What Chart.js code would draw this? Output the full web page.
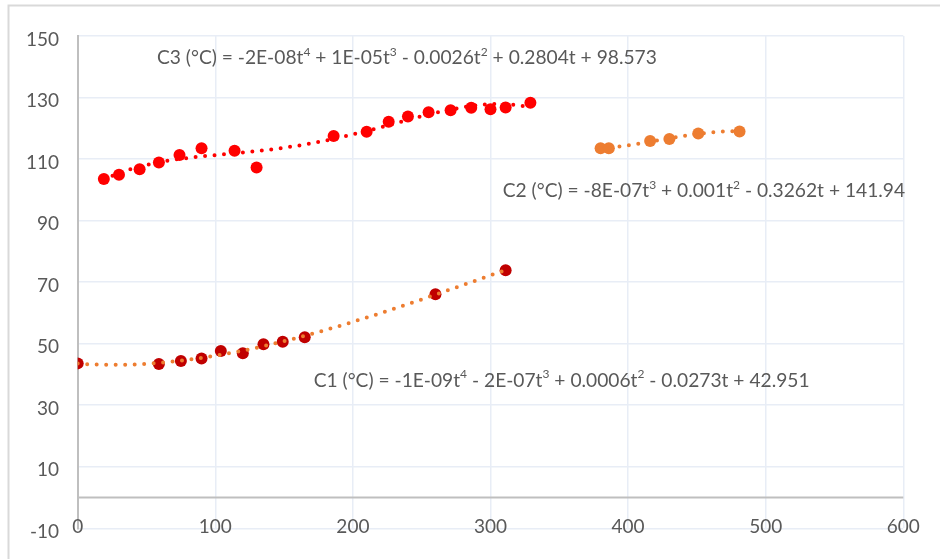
<!DOCTYPE html>
<html><head><meta charset="utf-8">
<script src="https://cdn.jsdelivr.net/npm/chart.js@4.4.1/dist/chart.umd.min.js"></script>
<style>html,body{margin:0;padding:0;background:#fff;}</style>
</head><body>
<canvas id="c" width="940" height="559"></canvas>
<script>
// ---- data ----
const c1T = [0, 59, 75, 90, 104, 120, 135, 149, 165, 260, 311];
const c1V = [43.6, 43.4, 44.4, 45.2, 47.6, 46.9, 49.8, 50.6, 52.1, 66.1, 73.9];
const c3T = [19, 30, 45, 59, 74, 90, 114, 130, 186, 210, 226, 240, 255, 271, 286, 300, 311, 329];
const c3V = [103.5, 104.9, 106.7, 108.9, 111.3, 113.5, 112.7, 107.3, 117.5, 118.9, 122.1, 123.8, 125.2, 125.9, 126.7, 126.2, 126.8, 128.3];
const c2T = [380, 386, 416, 430, 451, 481];
const c2V = [113.5, 113.5, 115.9, 116.5, 118.3, 119.0];
const xTicks = [0, 100, 200, 300, 400, 500, 600];
const yTicks = [-10, 10, 30, 50, 70, 90, 110, 130, 150];
const eqC3 = "C3 (°C) = -2E-08t^4 + 1E-05t^3 - 0.0026t^2 + 0.2804t + 98.573";
const eqC2 = "C2 (°C) = -8E-07t^3 + 0.001t^2 - 0.3262t + 141.94";
const eqC1 = "C1 (°C) = -1E-09t^4 - 2E-07t^3 + 0.0006t^2 - 0.0273t + 42.951";
// label anchor (left edge, vertical centre) in data units
const eqAnchors = [[57.6, 142.8], [308.9, 99.6], [171.5, 37.9]];

// ---- least-squares polynomial trendline (as Excel does) ----
function polyFit(xs, ys, deg) {
  const n = deg + 1;
  const A = Array.from({length: n}, () => new Array(n).fill(0));
  const b = new Array(n).fill(0);
  for (let i = 0; i < xs.length; i++) {
    const u = xs[i] / 100;
    for (let j = 0; j < n; j++) {
      b[j] += Math.pow(u, j) * ys[i];
      for (let k = 0; k < n; k++) A[j][k] += Math.pow(u, j + k);
    }
  }
  for (let col = 0; col < n; col++) {
    let piv = col;
    for (let r = col + 1; r < n; r++) if (Math.abs(A[r][col]) > Math.abs(A[piv][col])) piv = r;
    [A[col], A[piv]] = [A[piv], A[col]]; [b[col], b[piv]] = [b[piv], b[col]];
    for (let r = 0; r < n; r++) {
      if (r === col) continue;
      const f = A[r][col] / A[col][col];
      for (let k = col; k < n; k++) A[r][k] -= f * A[col][k];
      b[r] -= f * b[col];
    }
  }
  const coef = b.map((v, i) => v / A[i][i]);
  return t => coef.reduce((s, c, i) => s + c * Math.pow(t / 100, i), 0);
}
function trend(xs, ys, deg) {
  const f = polyFit(xs, ys, deg);
  const lo = Math.min(...xs), hi = Math.max(...xs), pts = [];
  for (let t = lo; t <= hi; t += 1) pts.push({x: t, y: f(t)});
  return pts;
}
const pts = (xs, ys) => xs.map((x, i) => ({x, y: ys[i]}));

const FONT = "Lato, 'Open Sans', sans-serif";
const TXT = '#595959';
const TICK_SIZE = 19;
const EQ_SIZE = 19.2;

const framePlugin = {
  id: 'frame',
  beforeDraw(chart) {
    const ctx = chart.ctx;
    ctx.save();
    ctx.fillStyle = '#fff';
    ctx.fillRect(0, 0, chart.width, chart.height);
    ctx.strokeStyle = '#D9D9D9';
    ctx.lineWidth = 2;
    ctx.strokeRect(8.5, 5.5, 1200, 1200);
    ctx.restore();
  }
};
const zeroLine = {
  id: 'zeroLine',
  beforeDatasetsDraw(chart) {
    const {ctx, chartArea, scales} = chart;
    const y = scales.y.getPixelForValue(0);
    ctx.save();
    ctx.strokeStyle = '#BFBFBF';
    ctx.lineWidth = 2;
    ctx.beginPath(); ctx.moveTo(chartArea.left, y); ctx.lineTo(chartArea.right, y); ctx.stroke();
    ctx.restore();
  }
};
// x tick labels sit on the bottom (-10) gridline, as in the reference
const xLabels = {
  id: 'xLabels',
  afterDraw(chart) {
    const {ctx, scales} = chart;
    const y = scales.y.getPixelForValue(yTicks[0]) - 1;
    ctx.save();
    ctx.fillStyle = TXT;
    ctx.font = TICK_SIZE + 'px ' + FONT;
    ctx.textAlign = 'center';
    ctx.textBaseline = 'middle';
    scales.x.ticks.forEach(t => {
      ctx.fillText(String(t.value), scales.x.getPixelForValue(t.value), y);
    });
    ctx.restore();
  }
};
const eqPlugin = {
  id: 'eqs',
  afterDatasetsDraw(chart) {
    const {ctx, scales} = chart;
    [eqC3, eqC2, eqC1].forEach((s, i) => {
      const size = EQ_SIZE, sup = Math.round(size * 0.62);
      let x = scales.x.getPixelForValue(eqAnchors[i][0]);
      const y = scales.y.getPixelForValue(eqAnchors[i][1]);
      ctx.save();
      ctx.fillStyle = TXT;
      ctx.textBaseline = 'middle';
      ctx.textAlign = 'left';
      s.split(/(\^\d)/).forEach(p => {
        if (!p) return;
        if (p[0] === '^') {
          ctx.font = sup + 'px ' + FONT;
          ctx.fillText(p.slice(1), x, y - size * 0.33);
          x += ctx.measureText(p.slice(1)).width;
        } else {
          ctx.font = size + 'px ' + FONT;
          ctx.fillText(p, x, y);
          x += ctx.measureText(p).width;
        }
      });
      ctx.restore();
    });
  }
};

const dotted = {borderWidth: 4, borderDash: [0, 9.5], borderCapStyle: 'round', pointRadius: 0, fill: false, tension: 0, order: 0, type: 'line'};

new Chart(document.getElementById('c'), {
  type: 'scatter',
  data: {
    datasets: [
      Object.assign({label: 'C1 trend', data: trend(c1T, c1V, 4), borderColor: '#ED7D31'}, dotted),
      Object.assign({label: 'C3 trend', data: trend(c3T, c3V, 4), borderColor: '#FF0000'}, dotted),
      Object.assign({label: 'C2 trend', data: trend(c2T, c2V, 3), borderColor: '#ED7D31'}, dotted),
      {label: 'C1 (°C)', data: pts(c1T, c1V), backgroundColor: '#C00000', borderColor: '#C00000', pointRadius: 6, borderWidth: 0, order: 1},
      {label: 'C3 (°C)', data: pts(c3T, c3V), backgroundColor: '#FF0000', borderColor: '#FF0000', pointRadius: 6, borderWidth: 0, order: 1},
      {label: 'C2 (°C)', data: pts(c2T, c2V), backgroundColor: '#ED7D31', borderColor: '#ED7D31', pointRadius: 6, borderWidth: 0, order: 1}
    ]
  },
  options: {
    responsive: false,
    animation: false,
    events: [],
    layout: {padding: {left: 8, right: 36.7, top: 36, bottom: 30.7}},
    plugins: {legend: {display: false}, tooltip: {enabled: false}},
    scales: {
      x: {
        type: 'linear', min: 0, max: 600,
        afterBuildTicks: s => { s.ticks = xTicks.map(v => ({value: v})); },
        grid: {color: '#E8EDF6', lineWidth: 1.5, drawTicks: false},
        border: {display: false},
        ticks: {display: false}
      },
      y: {
        type: 'linear', min: -10, max: 150,
        afterBuildTicks: s => { s.ticks = yTicks.map(v => ({value: v})); },
        afterFit: s => { s.width = 69.7; },
        grid: {color: '#E8EDF6', lineWidth: 1.5, drawTicks: false},
        border: {display: true, color: '#BFBFBF', width: 2},
        ticks: {color: TXT, font: {family: FONT, size: TICK_SIZE}, padding: 18.7, labelOffset: 3.5, autoSkip: false}
      }
    }
  },
  plugins: [framePlugin, zeroLine, xLabels, eqPlugin]
});
</script>
</body></html>
